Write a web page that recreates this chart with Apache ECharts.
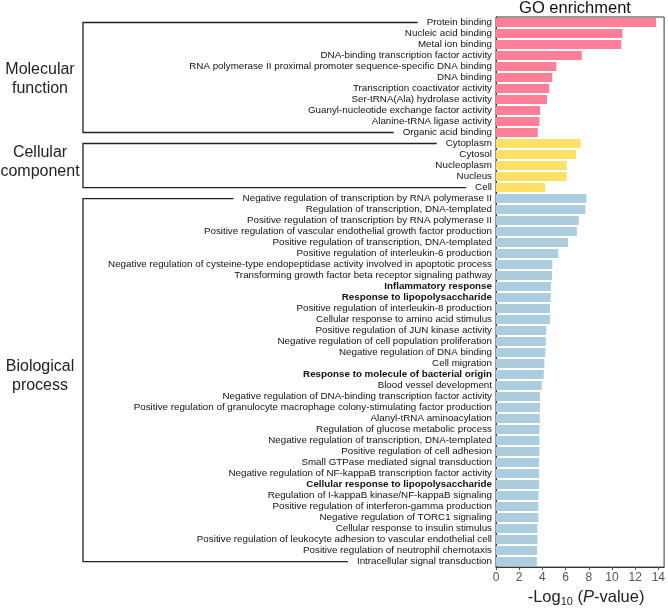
<!DOCTYPE html>
<html lang="en">
<head>
    <meta charset="UTF-8">
    <title>GO enrichment</title>
    <script type="text/javascript" src="https://cdn.jsdelivr.net/npm/echarts@6/dist/echarts.min.js"></script>
    <style>
        html, body { margin: 0; padding: 0; background: #fff; }
    </style>
</head>
<body>
<div id="main" style="width:668px;height:612px;"></div>

<script type="text/javascript">
    // GO terms and -log10(P) values, per category
    var mfNames = [
        'Protein binding', 'Nucleic acid binding', 'Metal ion binding',
        'DNA-binding transcription factor activity',
        'RNA polymerase II proximal promoter sequence-specific DNA binding',
        'DNA binding', 'Transcription coactivator activity', 'Ser-tRNA(Ala) hydrolase activity',
        'Guanyl-nucleotide exchange factor activity', 'Alanine-tRNA ligase activity', 'Organic acid binding'
    ];
    var mfValues = [13.8, 10.9, 10.8, 7.4, 5.2, 4.85, 4.6, 4.4, 3.8, 3.75, 3.6];

    var ccNames = ['Cytoplasm', 'Cytosol', 'Nucleoplasm', 'Nucleus', 'Cell'];
    var ccValues = [7.3, 6.9, 6.1, 6.08, 4.23];

    var bpNames = [
        'Negative regulation of transcription by RNA polymerase II',
        'Regulation of transcription, DNA-templated',
        'Positive regulation of transcription by RNA polymerase II',
        'Positive regulation of vascular endothelial growth factor production',
        'Positive regulation of transcription, DNA-templated',
        'Positive regulation of interleukin-6 production',
        'Negative regulation of cysteine-type endopeptidase activity involved in apoptotic process',
        'Transforming growth factor beta receptor signaling pathway',
        'Inflammatory response',
        'Response to lipopolysaccharide',
        'Positive regulation of interleukin-8 production',
        'Cellular response to amino acid stimulus',
        'Positive regulation of JUN kinase activity',
        'Negative regulation of cell population proliferation',
        'Negative regulation of DNA binding',
        'Cell migration',
        'Response to molecule of bacterial origin',
        'Blood vessel development',
        'Negative regulation of DNA-binding transcription factor activity',
        'Positive regulation of granulocyte macrophage colony-stimulating factor production',
        'Alanyl-tRNA aminoacylation',
        'Regulation of glucose metabolic process',
        'Negative regulation of transcription, DNA-templated',
        'Positive regulation of cell adhesion',
        'Small GTPase mediated signal transduction',
        'Negative regulation of NF-kappaB transcription factor activity',
        'Cellular response to lipopolysaccharide',
        'Regulation of I-kappaB kinase/NF-kappaB signaling',
        'Positive regulation of interferon-gamma production',
        'Negative regulation of TORC1 signaling',
        'Cellular response to insulin stimulus',
        'Positive regulation of leukocyte adhesion to vascular endothelial cell',
        'Positive regulation of neutrophil chemotaxis',
        'Intracellular signal transduction'
    ];
    var bpValues = [7.8, 7.7, 7.14, 6.97, 6.22, 5.37, 4.86, 4.83, 4.74, 4.72, 4.66, 4.66,
        4.34, 4.29, 4.26, 4.17, 4.12, 3.95, 3.8, 3.8, 3.77, 3.75, 3.75, 3.75,
        3.72, 3.72, 3.72, 3.66, 3.66, 3.66, 3.57, 3.57, 3.55, 3.52];

    var boldTerms = ['Inflammatory response', 'Response to lipopolysaccharide',
        'Response to molecule of bacterial origin', 'Cellular response to lipopolysaccharide'];

    var xTicks = [0, 2, 4, 6, 8, 10, 12, 14];

    var colors = { mf: '#ff7f99', cc: '#ffe066', bp: '#adcddf' };
    var FONT = '"Liberation Sans", Arial, sans-serif';
    var LABEL_SIZE = 9.8;

    // 组装y轴类目和柱子数据
    var categories = [];
    var barData = [];
    function addGroup(names, values, color) {
        for (var i = 0; i < names.length; i++) {
            var isBold = boldTerms.indexOf(names[i]) >= 0;
            categories.push({ value: names[i], textStyle: { fontWeight: isBold ? 'bold' : 'normal' } });
            barData.push({ value: values[i], itemStyle: { color: color } });
        }
    }
    addGroup(mfNames, mfValues, colors.mf);
    addGroup(ccNames, ccValues, colors.cc);
    addGroup(bpNames, bpValues, colors.bp);

    var myChart = echarts.init(document.getElementById('main'));

    var option = {
        animation: false,
        textStyle: { fontFamily: FONT },
        grid: {
            left: 496, right: 2, top: 17, bottom: 36,
            show: true, borderColor: '#333', borderWidth: 1
        },
        xAxis: {
            type: 'value',
            min: 0, max: 14.5,
            splitLine: { show: false },
            axisLine: { show: true, lineStyle: { color: '#333' } },
            axisTick: { show: true, length: 3, lineStyle: { color: '#555' }, customValues: xTicks },
            axisLabel: { color: '#555', fontSize: 12, margin: 5, customValues: xTicks },
            name: '{a|-Log}{s|10}{a| (}{i|P}{a|-value)}',
            nameLocation: 'middle',
            nameGap: 14,
            nameTextStyle: {
                padding: [0, 0, 0, 12],
                rich: {
                    a: { fontSize: 16.5, lineHeight: 18, verticalAlign: 'top', color: '#222', fontFamily: FONT },
                    i: { fontSize: 16.5, lineHeight: 18, verticalAlign: 'top', color: '#222', fontStyle: 'italic', fontFamily: FONT },
                    s: { fontSize: 11, lineHeight: 8, verticalAlign: 'bottom', color: '#222', fontFamily: FONT }
                }
            }
        },
        yAxis: {
            type: 'category',
            inverse: true,
            data: categories,
            axisLine: { show: true, lineStyle: { color: '#333' } },
            axisTick: { show: false },
            axisLabel: { fontSize: LABEL_SIZE, color: '#111', margin: 4, interval: 0 }
        },
        series: [{
            type: 'bar',
            data: barData,
            barCategoryGap: '18%'
        }]
    };
    myChart.setOption(option);

    // 左侧分组括号
    var ctx = document.createElement('canvas').getContext('2d');
    function textWidth(s) {
        ctx.font = LABEL_SIZE + 'px ' + FONT;
        return ctx.measureText(s).width;
    }
    var labelRight = 496 - 4;
    var bracketX = 83;
    function bracket(names) {
        var first = names[0], last = names[names.length - 1];
        var y1 = myChart.convertToPixel({ yAxisIndex: 0 }, first);
        var y2 = myChart.convertToPixel({ yAxisIndex: 0 }, last);
        var x1 = labelRight - textWidth(first) - 9;
        var x2 = labelRight - textWidth(last) - 9;
        return {
            type: 'polyline',
            shape: { points: [[x1, y1], [bracketX, y1], [bracketX, y2], [x2, y2]] },
            style: { stroke: '#222', lineWidth: 1.3, fill: null }
        };
    }
    function groupLabel(text, y) {
        return {
            type: 'text',
            x: 40, y: y,
            style: {
                text: text, fontSize: 16, fontFamily: FONT, fill: '#222',
                align: 'center', verticalAlign: 'middle', lineHeight: 19
            }
        };
    }
    myChart.setOption({
        graphic: [
            bracket(mfNames), bracket(ccNames), bracket(bpNames),
            groupLabel('Molecular\nfunction', 79),
            groupLabel('Cellular\ncomponent', 162),
            groupLabel('Biological\nprocess', 376),
            {
                type: 'text', x: 575, y: 8,
                style: {
                    text: 'GO enrichment', fontSize: 16.5, fontFamily: FONT, fill: '#111',
                    align: 'center', verticalAlign: 'middle'
                }
            }
        ]
    });
</script>
</body>
</html>
